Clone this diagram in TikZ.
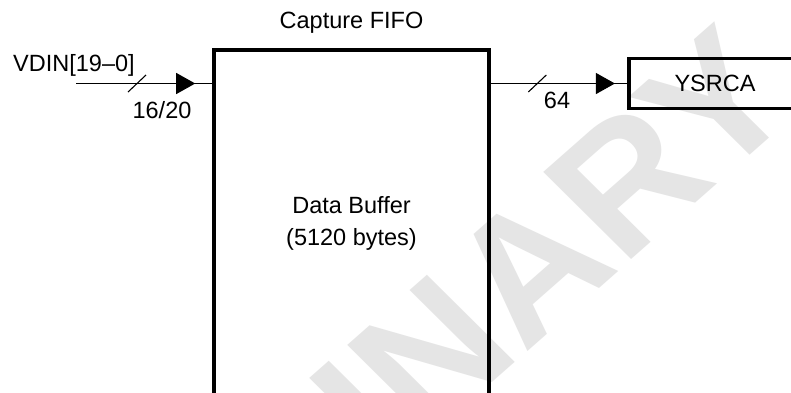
\documentclass[tikz,border=0pt]{standalone}
\usepackage{fontspec}
\setmainfont{Liberation Sans}
\usetikzlibrary{arrows.meta,decorations.markings}
\begin{document}
\begin{tikzpicture}[x=1pt,y=-1pt,
  every node/.style={font=\fontsize{23.5}{32}\selectfont, inner sep=0pt},
  blk/.style={draw, line width=3.6pt},
  wire/.style={line width=1.1pt},
  tip/.style={postaction={decorate, decoration={markings,
      mark=at position #1 with {\arrow{Triangle[length=19pt,width=21pt]}}}}},
  bus/.style={postaction={decorate, decoration={markings,
      mark=at position #1 with {\draw[line width=1.1pt] (-9pt,-8.5pt) -- (9pt,8.5pt);}}}},
  wmark/.style={text=gray!20, font=\fontsize{174}{174}\selectfont\bfseries}
]
\clip (0,0) rectangle (791,392);
\fill[white] (0,0) rectangle (791,392);
% watermark
\begin{scope}[shift={(805.4,106.4)}, xscale=1.07, rotate=43.3, transform shape]
  \node[wmark, anchor=base east] (wm) at (0,0) {PRELIMINARY};
\end{scope}
% blocks
\node[blk, minimum width=275pt, minimum height=400pt] (fifo) at (351.5,250) {};
\node[blk, minimum width=172.6pt, minimum height=50pt] (ysrc) at (715,83.5) {YSRCA};
\node[anchor=base] (cap) at (351.5,28) {Capture FIFO};
\node[align=center] (buf) at (351.5,223) {Data Buffer\\(5120 bytes)};
% wires
\coordinate (vin) at (76,83.5);
\draw[wire, tip=-17pt, bus=61pt] (vin) -- (vin -| fifo.west);
\draw[wire, tip=-12pt, bus=46.5pt] (fifo.east |- vin) -- (ysrc.west);
% labels
\node[anchor=base west] (lvin) at (13,71) {VDIN[19–0]};
\node[anchor=base] (lw1) at (162,118) {16/20};
\node[anchor=base] (lw2) at (557,108) {64};
\end{tikzpicture}
\end{document}
